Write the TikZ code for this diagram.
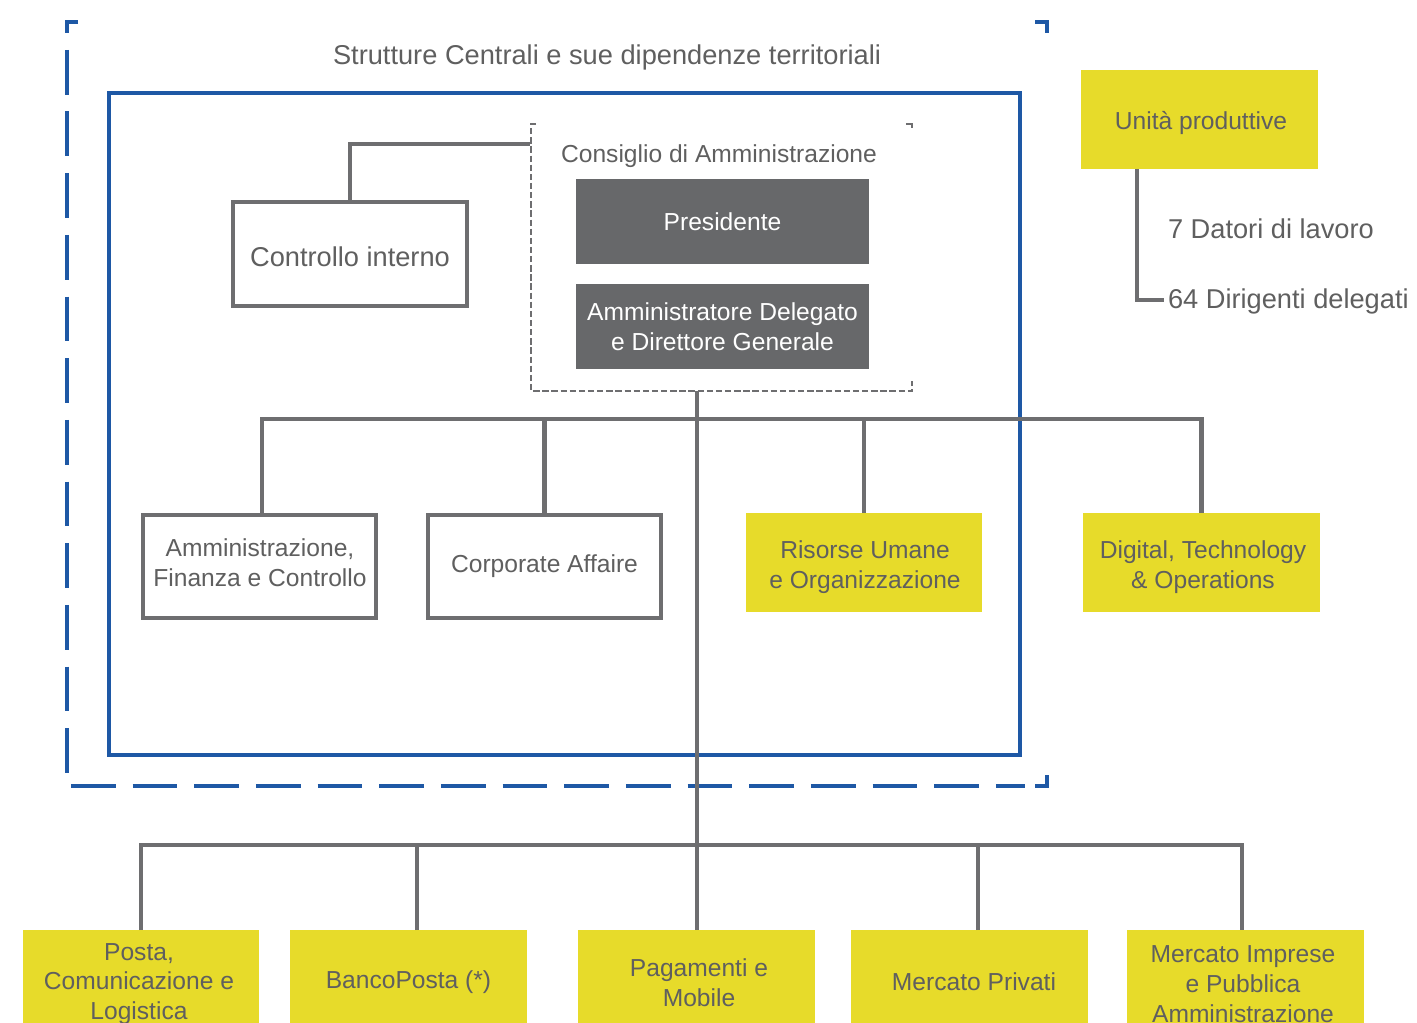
\documentclass[tikz,border=0pt]{standalone}
\usepackage{fontspec}
\setmainfont{Liberation Sans}
\definecolor{postblue}{RGB}{30,88,165}
\definecolor{linegray}{RGB}{110,110,112}
\definecolor{boxdark}{RGB}{103,104,106}
\definecolor{postyellow}{RGB}{231,219,42}
\definecolor{txtgray}{RGB}{95,95,95}

\begin{document}
\begin{tikzpicture}[x=0.02cm, y=-0.02cm, line join=miter,
        every node/.style={font=\fontsize{14}{17}\selectfont, text=txtgray, align=center, inner sep=0pt, outer sep=0pt},
        link/.style={draw=linegray, line width=2.4pt},
        frameline/.style={draw=postblue, line width=2.3pt, dash pattern=on 25.5pt off 9.6pt, dash phase=13pt},
        cdaline/.style={draw=linegray, line width=1.1pt, dash pattern=on 3.6pt off 1.6pt},
        whitebox/.style={draw=linegray, line width=2.3pt, fill=white, minimum width=4.66cm, minimum height=2.06cm},
        darkbox/.style={fill=boxdark, text=white, minimum width=5.86cm, minimum height=1.70cm},
        yellowbox/.style={fill=postyellow, minimum width=4.74cm, minimum height=1.98cm},
        unitbox/.style={fill=postyellow, minimum width=4.74cm, minimum height=2.08cm}]
        \clip (0,0) rectangle (1417,1023);
        % frames
        \draw[frameline] (78,22) -- (67,22) -- (67,786) -- (1025,786);
        \draw[postblue, line width=2.3pt] (1035,786) -- (1047,786) -- (1047,775);
        \draw[postblue, line width=2.3pt] (1035,22) -- (1047,22) -- (1047,33);
        \draw[postblue, line width=2.8pt] (109,93) rectangle (1020,755);
        \node[font=\fontsize{15.5}{18}\selectfont] (title) at (607,57) {Strutture Centrali e sue dipendenze territoriali};
        % top management
        \node[minimum width=7.62cm, minimum height=5.34cm] (cda) at (721.5,257.5) {};
        \draw[cdaline] ([xshift=0.1cm]cda.north west) -- (cda.north west) -- (cda.south west) -- (cda.south east) -- ([yshift=0.2cm]cda.south east);
        \draw[linegray, line width=1.1pt] ([xshift=-0.12cm]cda.north east) -- (cda.north east) -- ([yshift=-0.08cm]cda.north east);
        \node (cdatitle) at (719,156) {Consiglio di Amministrazione};
        \node[darkbox] (pres) at (722.5,221.5) {Presidente};
        \node[darkbox] (ad) at (722.5,326.5) {Amministratore Delegato\\e Direttore Generale};
        \node[whitebox, minimum width=4.68cm, minimum height=2.08cm] (ctrl) at (350,254) {};
        \node[font=\fontsize{15.5}{18}\selectfont] (ctrltext) at (350,257) {Controllo interno};
        \coordinate (cdaj) at (530,144);
        \draw[link] (ctrl.north) |- (cdaj);
        % central functions
        \node[whitebox] (afc) at (259.5,566.5) {};
        \node (afctext) at (260,563) {Amministrazione,\\Finanza e Controllo};
        \node[whitebox] (corp) at (544.5,566.5) {Corporate Affaire};
        \node[yellowbox, minimum width=4.72cm] (rumo) at (864,562.5) {};
        \node (rumotext) at (865,567) {Risorse Umane\\e Organizzazione};
        \node[yellowbox] (dto) at (1201.5,562.5) {};
        \node (dtotext) at (1203,567) {Digital, Technology\\\& Operations};
        % business units
        \node[unitbox] (pcl) at (141,982) {};
        \node (pcltext) at (139,984) {Posta,\\Comunicazione e\\Logistica};
        \node[unitbox] (bp) at (408.5,982) {BancoPosta (*)};
        \node[unitbox] (pm) at (696.5,982) {};
        \node (pmtext) at (699,983) {Pagamenti e\\Mobile};
        \node[unitbox] (mp) at (969.5,982) {};
        \node (mptext) at (974,982) {Mercato Privati};
        \node[unitbox] (mipa) at (1245.5,982) {};
        \node (mipatext) at (1243,984) {Mercato Imprese\\e Pubblica\\Amministrazione};
        % connectors
        \coordinate (bus) at (697,419);
        \coordinate (bus2) at (697,845);
        \draw[link] ([xshift=0.05cm]afc.north) |- (bus) -| (dto.north);
        \draw[link] (corp.north) -- (corp.north |- bus);
        \draw[link] (rumo.north) -- (rumo.north |- bus);
        \draw[link] (cda.south -| bus) -- (bus |- pm.north);
        \draw[link] (pcl.north) |- (bus2) -| ([xshift=-0.07cm]mipa.north);
        \draw[link] ([xshift=0.17cm]bp.north) -- ([xshift=0.17cm]bp.north |- bus2);
        \draw[link] ([xshift=0.17cm]mp.north) -- ([xshift=0.17cm]mp.north |- bus2);
        % production units
        \node[yellowbox] (unita) at (1199.5,119.5) {};
        \node (unitatext) at (1201,123) {Unità produttive};
        \node[anchor=west, font=\fontsize{15.5}{18}\selectfont] (datori) at (1168,229) {7 Datori di lavoro};
        \node[anchor=west, font=\fontsize{15.5}{18}\selectfont] (dirig) at (1168,301) {64 Dirigenti delegati};
        \draw[link] ([xshift=-1.25cm]unita.south) |- ([xshift=-0.08cm,yshift=0.02cm]dirig.west);
    \end{tikzpicture}
\end{document}
